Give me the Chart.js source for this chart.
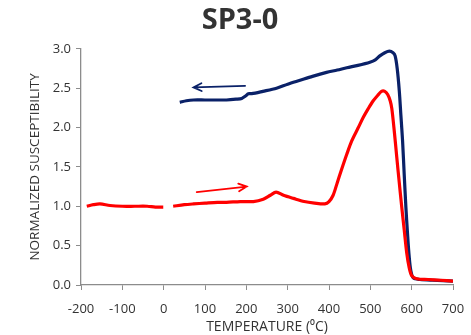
<!DOCTYPE html>
<html>
<head>
<meta charset="utf-8">
<script src="https://cdn.jsdelivr.net/npm/chart.js@4/dist/chart.umd.min.js"></script>
<style>
  html, body { margin: 0; padding: 0; background: #fff; }
  #wrap { width: 471px; height: 335px; }
</style>
</head>
<body>
<div id="wrap"><canvas id="chart" width="471" height="335"></canvas></div>
<script>
// heating run (red), gap near 0 C
const heatTemp = [-186,-170,-154,-130,-100,-70,-40,-20,-1,10,23,50,72,100,130,152,185,217,241,258,272,290,314,340,365,390,400,410,420,430,443,455,470,483,495,507,518,527,535,542,548,552,558,564,570,576,582,588,594,600,612,640,670,700];
const heatValue = [1.00,1.02,1.03,1.01,1.00,1.00,1.00,0.99,0.99,null,1.00,1.02,1.03,1.04,1.05,1.05,1.06,1.06,1.09,1.14,1.18,1.14,1.10,1.06,1.04,1.03,1.06,1.14,1.30,1.46,1.66,1.83,1.99,2.13,2.24,2.34,2.41,2.46,2.46,2.42,2.34,2.24,1.95,1.62,1.30,0.99,0.70,0.41,0.22,0.12,0.08,0.07,0.06,0.05];

// cooling run (navy)
const coolTemp = [39,55,72,100,130,152,175,189,198,205,213,240,273,300,330,360,394,420,443,470,499,512,523,535,546,555,560,565,570,574,578,582,586,590,594,598,604,620,650,700];
const coolValue = [2.32,2.34,2.35,2.35,2.35,2.35,2.36,2.37,2.40,2.43,2.43,2.46,2.50,2.55,2.60,2.65,2.70,2.73,2.76,2.79,2.83,2.86,2.91,2.95,2.97,2.95,2.91,2.75,2.47,2.15,1.83,1.40,0.99,0.65,0.36,0.18,0.09,0.07,0.06,0.05];

// direction arrows, [temp, value] from -> to
const coolArrow = [[197, 2.53], [72, 2.51]];
const heatArrow = [[80, 1.18], [201, 1.25]];

const xTicks = [-200,-100,0,100,200,300,400,500,600,700];
const yTicks = [0,0.5,1,1.5,2,2.5,3];

const RED = '#ff0000';
const NAVY = '#0a2168';
const TXT = '#333333';
const AXIS = '#8c8c8c';

function pts(xs, ys) {
  return xs.map((x, i) => ({ x: x, y: ys[i] }));
}

const arrowPlugin = {
  id: 'arrows',
  afterDatasetsDraw(chart) {
    const ctx = chart.ctx;
    const xs = chart.scales.x, ys = chart.scales.y;
    [[coolArrow, NAVY], [heatArrow, RED]].forEach(([a, col]) => {
      const x1 = xs.getPixelForValue(a[0][0]), y1 = ys.getPixelForValue(a[0][1]);
      const x2 = xs.getPixelForValue(a[1][0]), y2 = ys.getPixelForValue(a[1][1]);
      const ang = Math.atan2(y2 - y1, x2 - x1);
      ctx.save();
      ctx.strokeStyle = col;
      ctx.lineWidth = 1.8;
      ctx.lineCap = 'round';
      ctx.beginPath();
      ctx.moveTo(x1, y1);
      ctx.lineTo(x2, y2);
      ctx.moveTo(x2 - 9 * Math.cos(ang - 0.45), y2 - 9 * Math.sin(ang - 0.45));
      ctx.lineTo(x2, y2);
      ctx.lineTo(x2 - 9 * Math.cos(ang + 0.45), y2 - 9 * Math.sin(ang + 0.45));
      ctx.stroke();
      ctx.restore();
    });
  }
};

new Chart(document.getElementById('chart'), {
  type: 'line',
  data: {
    datasets: [
      { data: pts(heatTemp, heatValue), borderColor: RED, borderWidth: 3.2, pointRadius: 0, tension: 0.3, spanGaps: false },
      { data: pts(coolTemp, coolValue), borderColor: NAVY, borderWidth: 3.2, pointRadius: 0, tension: 0.3 }
    ]
  },
  options: {
    responsive: false,
    animation: false,
    events: [],
    layout: { padding: { left: 27, right: 18, top: 0, bottom: 0 } },
    plugins: {
      legend: { display: false },
      tooltip: { enabled: false },
      title: {
        display: true,
        text: 'SP3-0',
        color: TXT,
        font: { family: 'Open Sans', size: 29, weight: 'bold' },
        padding: { top: 3, bottom: 11 }
      }
    },
    scales: {
      x: {
        type: 'linear',
        min: -200, max: 700,
        afterBuildTicks: s => { s.ticks = xTicks.map(v => ({ value: v })); },
        afterFit: s => { s.height = 50; s.paddingLeft = 0; s.paddingRight = 0; },
        border: { color: AXIS, width: 1.3 },
        grid: { drawOnChartArea: false, color: AXIS, tickLength: 5 },
        ticks: { color: TXT, font: { family: 'Open Sans', size: 13 }, padding: 11, maxRotation: 0 },
        title: { display: true, text: 'TEMPERATURE (\u2070C)', color: TXT, font: { family: 'Open Sans', size: 14 }, padding: { top: 0, bottom: 0 } }
      },
      y: {
        min: 0, max: 3,
        afterBuildTicks: s => { s.ticks = yTicks.map(v => ({ value: v })); },
        afterFit: s => { s.width = 54; },
        border: { color: AXIS, width: 1.3 },
        grid: { drawOnChartArea: false, color: AXIS, tickLength: 5 },
        ticks: { color: TXT, font: { family: 'Open Sans', size: 13 }, padding: 5, callback: v => v.toFixed(1) },
        title: { display: true, text: 'NORMALIZED SUSCEPTIBILITY', color: TXT, font: { family: 'Open Sans', size: 13.5 }, padding: { top: 0, bottom: 1 } }
      }
    }
  },
  plugins: [arrowPlugin]
});
</script>
</body>
</html>
